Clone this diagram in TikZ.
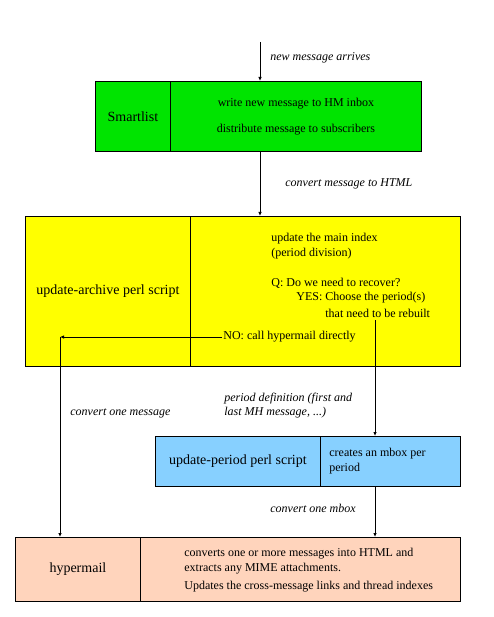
\documentclass[tikz,border=0pt]{standalone}
\usepackage{fontspec}
\setmainfont{Liberation Serif}
\usetikzlibrary{arrows.meta}
\definecolor{listgreen}{RGB}{0,228,0}
\definecolor{archyellow}{RGB}{255,255,0}
\definecolor{periodblue}{RGB}{135,208,255}
\definecolor{hypersalmon}{RGB}{255,212,188}
\begin{document}
\begin{tikzpicture}[x=1pt, y=-1pt, line width=0.8pt,
    box/.style={draw, inner sep=0pt, anchor=north west, font=\fontsize{14}{17}\selectfont},
    txt/.style={inner sep=1pt, anchor=west, font=\fontsize{12}{15}\selectfont},
    lbl/.style={inner sep=1pt, anchor=west, font=\fontsize{12}{14}\selectfont\itshape},
    arr/.style={-{Latex[length=4pt, width=3.5pt]}}]
    \useasboundingbox (0,0) rectangle (494,617);
    % Smartlist
    \node[box, fill=listgreen, minimum width=75pt, minimum height=70pt] (smart) at (95,81) {Smartlist};
    \node[box, fill=listgreen, minimum width=251pt, minimum height=70pt, align=center, font=\fontsize{12}{15}\selectfont] (smartR) at (170,81) {write new message to HM inbox\\[11pt]distribute message to subscribers};
    % update-archive
    \node[box, fill=archyellow, minimum width=165pt, minimum height=150pt] (arch) at (25,216) {update-archive perl script};
    \node[box, fill=archyellow, minimum width=270pt, minimum height=150pt] (archR) at (190,216) {};
    \node[txt] (index) at (270,239) {update the main index};
    \node[txt] (division) at (270,254) {(period division)};
    \node[txt] (recover) at (270,283) {Q: Do we need to recover?};
    \node[txt] (yes) at (295,298) {YES: Choose the period(s)};
    \node[txt] (rebuilt) at (324,313) {that need to be rebuilt};
    \node[txt] (no) at (222,337) {NO: call hypermail directly};
    % update-period
    \node[box, fill=periodblue, minimum width=165pt, minimum height=50pt] (period) at (155,436) {update-period perl script};
    \node[box, fill=periodblue, minimum width=140pt, minimum height=50pt] (periodR) at (320,436) {};
    \node[txt, align=left] (mbox) at (328,461) {creates an mbox per\\period};
    % hypermail
    \node[box, fill=hypersalmon, minimum width=125pt, minimum height=64pt] (hyper) at (15,537) {hypermail};
    \node[box, fill=hypersalmon, minimum width=320pt, minimum height=64pt] (hyperR) at (140,537) {};
    \node[txt, align=left] (convert) at (183,570) {converts one or more messages into HTML and\\extracts any MIME attachments.\\[3pt]Updates the cross-message links and thread indexes};
    % connectors
    \coordinate (msgin) at (260,42);
    \coordinate (yesout) at (375,320);
    \coordinate (nocorner) at (60,0);
    \draw[arr] (msgin) -- (msgin |- smartR.north);
    \draw[arr] (msgin |- smartR.south) -- (msgin |- archR.north);
    \draw[arr] (yesout) -- (yesout |- periodR.north);
    \draw[arr] (yesout |- periodR.south) -- (yesout |- hyperR.north);
    \draw[arr] (no.west) -- (nocorner |- no.west);
    \draw[arr] (nocorner |- no.west) -- (nocorner |- hyper.north);
    \node[lbl] (arrives) at (269,58) {new message arrives};
    \node[lbl] (tohtml) at (284,184) {convert message to HTML};
    \node[lbl] (onemsg) at (69,413) {convert one message};
    \node[lbl, align=left] (definition) at (223,406) {period definition (first and\\last MH message, ...)};
    \node[lbl] (onembox) at (269,508) {convert one mbox};
\end{tikzpicture}
\end{document}
